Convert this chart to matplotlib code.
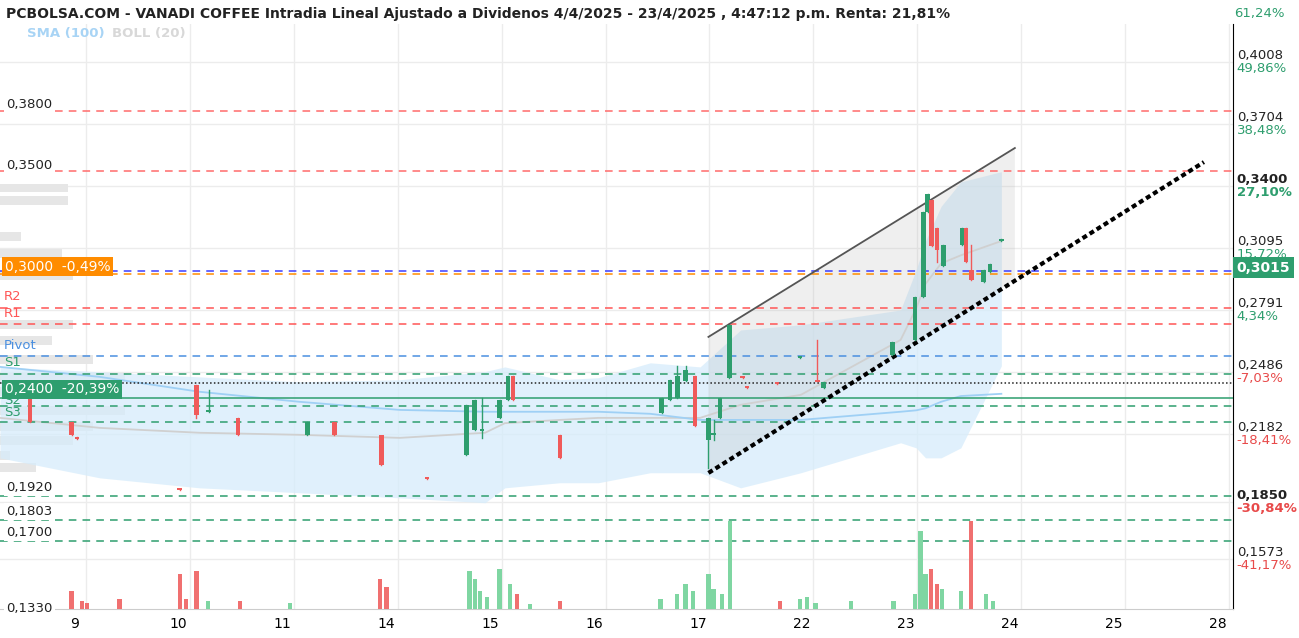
import matplotlib
matplotlib.use("Agg")
import matplotlib.pyplot as plt
from matplotlib.patches import Rectangle, Polygon
import numpy as np

day_labels = ["9", "10", "11", "14", "15", "16", "17", "22", "23", "24", "25", "28"]

# candles: x (trading-day position), open, close, high, low
c_x = [-0.43, -0.03, 0.02, 1.01, 1.17, 1.29, 1.57, 2.24, 2.50, 2.95, 3.39, 3.77, 3.85, 3.92, 4.09, 4.17, 4.22,
       4.67, 5.65, 5.73, 5.80, 5.88, 5.97, 6.10, 6.15, 6.21, 6.30, 6.43, 6.47, 6.76, 6.98, 7.15, 7.21,
       7.87, 8.09, 8.17, 8.21, 8.25, 8.30, 8.36, 8.54, 8.58, 8.63, 8.75, 8.81, 8.92]
c_o = [0.2361, 0.2244, 0.2170, 0.1915, 0.2425, 0.2293, 0.2263, 0.2180, 0.2244, 0.2180, 0.1969, 0.2082, 0.2204, 0.2200, 0.2263, 0.2351, 0.2469,
       0.2180, 0.2288, 0.2351, 0.2361, 0.2444, 0.2469, 0.2155, 0.2180, 0.2263, 0.2459, 0.2464, 0.2415, 0.2435, 0.2557, 0.2444, 0.2410,
       0.2572, 0.2645, 0.2856, 0.3273, 0.3331, 0.3194, 0.3008, 0.3111, 0.3194, 0.2988, 0.2930, 0.2979, 0.3130]
c_c = [0.2244, 0.2180, 0.2160, 0.1910, 0.2278, 0.2293, 0.2180, 0.2244, 0.2180, 0.2033, 0.1965, 0.2327, 0.2351, 0.2210, 0.2351, 0.2469, 0.2351,
       0.2067, 0.2361, 0.2449, 0.2469, 0.2498, 0.2224, 0.2263, 0.2185, 0.2361, 0.2719, 0.2459, 0.2410, 0.2430, 0.2562, 0.2440, 0.2440,
       0.2636, 0.2856, 0.3273, 0.3361, 0.3106, 0.3086, 0.3111, 0.3194, 0.3028, 0.2939, 0.2988, 0.3018, 0.3140]
c_h = [0.2361, 0.2244, 0.2170, 0.1915, 0.2425, 0.2400, 0.2263, 0.2244, 0.2244, 0.2170, 0.1969, 0.2327, 0.2351, 0.2361, 0.2351, 0.2469, 0.2469,
       0.2180, 0.2361, 0.2449, 0.2518, 0.2518, 0.2469, 0.2263, 0.2253, 0.2361, 0.2719, 0.2464, 0.2415, 0.2435, 0.2562, 0.2645, 0.2440,
       0.2636, 0.2856, 0.3273, 0.3361, 0.3331, 0.3194, 0.3111, 0.3194, 0.3194, 0.3111, 0.2988, 0.3018, 0.3140]
c_l = [0.2244, 0.2180, 0.2160, 0.1910, 0.2263, 0.2293, 0.2180, 0.2180, 0.2180, 0.2033, 0.1965, 0.2082, 0.2204, 0.2165, 0.2263, 0.2351, 0.2351,
       0.2067, 0.2288, 0.2351, 0.2361, 0.2444, 0.2224, 0.2018, 0.2155, 0.2263, 0.2459, 0.2459, 0.2410, 0.2430, 0.2557, 0.2444, 0.2410,
       0.2572, 0.2645, 0.2856, 0.3273, 0.3106, 0.3028, 0.3008, 0.3111, 0.3028, 0.2939, 0.2930, 0.2979, 0.3130]

# volume bars
v_x = [-0.03, 0.07, 0.12, 0.43, 1.01, 1.07, 1.17, 1.28, 1.59, 2.07, 2.94, 3.00, 3.80, 3.85, 3.90, 3.97, 4.09, 4.19, 4.26, 4.38,
       4.67, 5.64, 5.80, 5.88, 5.95, 6.10, 6.15, 6.23, 6.31, 6.79, 6.98, 7.05, 7.13, 7.47, 7.88, 8.09, 8.14, 8.19, 8.24, 8.30,
       8.35, 8.53, 8.63, 8.77, 8.84]
v_h = [18, 8, 6, 10, 35, 10, 38, 8, 8, 6, 30, 22, 38, 30, 18, 12, 40, 25, 15, 5,
       8, 10, 15, 25, 18, 35, 20, 15, 88, 8, 10, 12, 6, 8, 8, 15, 78, 35, 40, 25,
       20, 18, 88, 15, 8]
v_up = [0, 0, 0, 0, 0, 0, 0, 1, 0, 1, 0, 0, 1, 1, 1, 1, 1, 1, 0, 1,
        0, 1, 1, 1, 1, 1, 1, 1, 1, 0, 1, 1, 1, 1, 1, 1, 1, 1, 0, 0,
        1, 1, 0, 1, 1]

# bollinger / sma
b_x = [-0.72, 0.24, 1.20, 2.16, 3.13, 3.95, 4.14, 4.67, 5.04, 5.54, 6.02, 6.41, 6.99, 7.95, 8.10, 8.19, 8.34, 8.53, 8.92]
b_up = [0.2513, 0.2489, 0.2464, 0.2440, 0.2450, 0.2490, 0.2513, 0.2450, 0.2460, 0.2533, 0.2513, 0.2694, 0.2719, 0.2792, 0.2989, 0.3130, 0.3300, 0.3420, 0.3470]
b_lo = [0.2067, 0.1969, 0.1920, 0.1896, 0.1871, 0.1847, 0.1920, 0.1945, 0.1945, 0.1994, 0.1994, 0.1920, 0.1994, 0.2141, 0.2116, 0.2067, 0.2067, 0.2116, 0.2518]
b_mid = [0.2263, 0.2214, 0.2190, 0.2180, 0.2165, 0.2190, 0.2237, 0.2253, 0.2263, 0.2263, 0.2263, 0.2327, 0.2376, 0.2645, 0.2800, 0.2920, 0.3020, 0.3060, 0.3130]
sma = [0.2513, 0.2464, 0.2391, 0.2342, 0.2302, 0.2293, 0.2293, 0.2293, 0.2293, 0.2283, 0.2253, 0.2253, 0.2253, 0.2293, 0.2300, 0.2310, 0.2342, 0.2370, 0.2381]

# channel
ch_x = [6.10, 9.05]
ch_up = [0.2660, 0.3586]
ch_lo = [0.1993, 0.2939]
trend_x = [6.10, 10.87]
trend_y = [0.1993, 0.3517]

# horizontal levels
lv_price = [0.3768, 0.3473, 0.2983, 0.2969, 0.2802, 0.2724, 0.2567, 0.2479, 0.2435, 0.2361, 0.2322, 0.2244, 0.1881, 0.1763, 0.1660]
lv_color = ["#ff6b6b", "#ff6b6b", "#3d3dff", "#ff8c00", "#ff5555", "#ff5555", "#4a8fe0", "#2e9e6e", "#222222", "#2e9e6e", "#2e9e6e", "#2e9e6e", "#2e9e6e", "#2e9e6e", "#2e9e6e"]
lv_style = ["--", "--", "--", "--", "--", "--", "--", "--", ":", "-", "--", "--", "--", "--", "--"]

r_ticks = [0.4008, 0.3704, 0.3400, 0.3095, 0.2791, 0.2486, 0.2182, 0.1850, 0.1573]
r_pct = ["49,86%", "38,48%", "27,10%", "15,72%", "4,34%", "-7,03%", "-18,41%", "-30,84%", "-41,17%"]

# left profile bars
p_price = [0.3390, 0.3330, 0.3150, 0.3070, 0.2960, 0.2720, 0.2640, 0.2550, 0.2460, 0.2390, 0.2300, 0.2220, 0.2150, 0.2080, 0.2020]
p_w = [0.65, 0.65, 0.2, 0.6, 0.7, 0.7, 0.5, 0.9, 1.2, 1.1, 1.2, 0.9, 0.7, 0.1, 0.35]

fig = plt.figure(figsize=(12.99, 6.38), dpi=100)
ax = fig.add_axes([0, 29/638, 1233/1299, 1 - 53/638])
x0, x1 = -0.72, 11.15
ylo, yhi = 0.1326, 0.4194
ax.set_xlim(x0, x1)
ax.set_ylim(ylo, yhi)

for i in range(len(day_labels)):
    ax.axvline(i + 0.11, color="#ececec", lw=1, zorder=0)
for t in r_ticks:
    ax.axhline(t, color="#ececec", lw=1, zorder=0)

for p, w in zip(p_price, p_w):
    ax.add_patch(Rectangle((x0, p - 0.0022), w, 0.0044, color="#e6e6e6", zorder=1, lw=0))

ax.fill_between(b_x, b_lo, b_up, color="#d6ecfb", alpha=0.75, zorder=1, lw=0)
ax.plot(b_x, b_mid, color="#d0d0d0", lw=1.3, zorder=2)
ax.plot(b_x, sma, color="#9fd0f5", lw=1.3, zorder=2)

ax.add_patch(Polygon([(ch_x[0], ch_up[0]), (ch_x[1], ch_up[1]), (ch_x[1], ch_lo[1]), (ch_x[0], ch_lo[0])],
                     closed=True, color="#b0b0b0", alpha=0.2, lw=0, zorder=1))
ax.plot(ch_x, ch_up, color="#555555", lw=1.3, zorder=4)
ax.plot(trend_x, trend_y, color="black", lw=3, ls=(0, (1.2, 0.8)), zorder=4)

style_map = {"--": (0, (5, 4)), ":": (0, (1, 1.5)), "-": "-"}
for p, c, s in zip(lv_price, lv_color, lv_style):
    ax.axhline(p, color=c, ls=style_map[s], lw=1.1, zorder=3)

w = 0.045
for x, o, c, h, l in zip(c_x, c_o, c_c, c_h, c_l):
    col = "#2e9e6e" if c >= o else "#f05a5a"
    ax.plot([x, x], [l, h], color=col, lw=1, zorder=5)
    ax.add_patch(Rectangle((x - w / 2, min(o, c)), w, max(abs(c - o), 0.0008), color=col, zorder=5, lw=0))

vax = ax.twinx()
vax.set_ylim(0, 585)
vax.bar(v_x, v_h, width=0.042, color=["#7fd6a2" if u else "#f07070" for u in v_up], zorder=2)
vax.axis("off")

ax.set_xticks([i for i in range(len(day_labels))])
ax.set_xticklabels(day_labels, fontsize=10)
ax.tick_params(axis="x", length=0, pad=6)
ax.set_yticks([])
for s in ["top", "left"]:
    ax.spines[s].set_visible(False)
ax.spines["right"].set_color("black")
ax.spines["bottom"].set_color("#cccccc")

for t, pc in zip(r_ticks, r_pct):
    bold = "bold" if t in (0.3400, 0.1850) else "normal"
    ax.text(1.003, t, f"{t:.4f}".replace(".", ","), transform=ax.get_yaxis_transform(), fontsize=9.5,
            va="bottom", ha="left", fontweight=bold, color="#222222", clip_on=False)
    ax.text(1.003, t, pc, transform=ax.get_yaxis_transform(), fontsize=9.5, va="top", ha="left",
            fontweight=bold, color="#e84a4a" if pc.startswith("-") else "#2e9e6e", clip_on=False)
ax.text(1.003, 0.3000, "0,3015", transform=ax.get_yaxis_transform(), fontsize=10, fontweight="bold",
        color="white", va="center", ha="left",
        bbox=dict(boxstyle="square,pad=0.25", fc="#2e9e6e", ec="none"), clip_on=False)
fig.text(1234 / 1299, 1 - 13 / 638, "61,24%", fontsize=9.5, color="#2e9e6e", va="center")

lt = ax.get_yaxis_transform()
for txt, p, col in [("0,3800", 0.3800, "#222"), ("0,3500", 0.3500, "#222"), ("0,1920", 0.1920, "#222"),
                    ("0,1803", 0.1803, "#222"), ("0,1700", 0.1700, "#222"), ("0,1330", 0.1330, "#222")]:
    ax.text(0.005, p, txt, transform=lt, fontsize=9.5, color=col, va="center", ha="left",
            bbox=dict(boxstyle="square,pad=0.15", fc="white", ec="none"), zorder=6)
for txt, p, col in [("R2", 0.2860, "#ff5555"), ("R1", 0.2775, "#ff5555"), ("Pivot", 0.2620, "#4a8fe0"),
                    ("S1", 0.2535, "#2e9e6e"), ("S2", 0.2350, "#2e9e6e"), ("S3", 0.2290, "#2e9e6e")]:
    ax.text(0.003, p, txt, transform=lt, fontsize=9.5, color=col, va="center", ha="left", zorder=6)
ax.text(0.004, 0.3005, "0,3000  -0,49%", transform=lt, fontsize=10, color="white", va="center",
        bbox=dict(boxstyle="square,pad=0.2", fc="#ff8c00", ec="none"), zorder=7)
ax.text(0.004, 0.2403, "0,2400  -20,39%", transform=lt, fontsize=10, color="white", va="center",
        bbox=dict(boxstyle="square,pad=0.2", fc="#2e9e6e", ec="none"), zorder=7)

fig.text(6 / 1299, 1 - 14 / 638,
         "PCBOLSA.COM - VANADI COFFEE Intradia Lineal Ajustado a Dividenos 4/4/2025 - 23/4/2025 , 4:47:12 p.m. Renta: 21,81%",
         fontsize=10, fontweight="bold", va="center", color="#222222")
fig.text(27 / 1299, 1 - 33 / 638, "SMA (100)", fontsize=9.5, fontweight="bold", color="#a8d4f5", va="center")
fig.text(112 / 1299, 1 - 33 / 638, "BOLL (20)", fontsize=9.5, fontweight="bold", color="#d8d8d8", va="center")

fig.savefig("out.png", dpi=100)
